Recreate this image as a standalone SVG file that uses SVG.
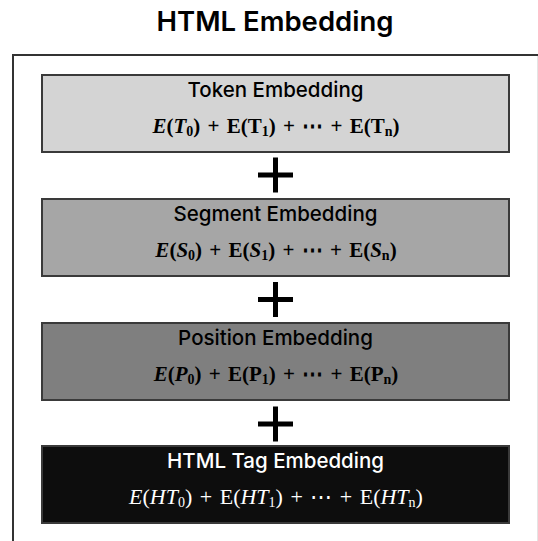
<svg xmlns="http://www.w3.org/2000/svg" width="538" height="541" viewBox="0 0 538 541">
<style>
.box{stroke:#3a3a3a;stroke-width:2}
.lbl{font-family:Inter,"Noto Sans",sans-serif;font-weight:500;font-size:20.5px;text-anchor:middle}
.f{font-family:"Liberation Serif","DejaVu Serif",serif;font-weight:bold;font-size:21px;text-anchor:middle;word-spacing:2px}
.i{font-style:italic}
.s{font-size:14px}
.plus{stroke:#000;stroke-width:5;fill:none}
</style>
<rect width="538" height="541" fill="#fff"/>
<text x="275" y="31" font-family="Inter,'Noto Sans',sans-serif" font-weight="600" font-size="27.5" text-anchor="middle" fill="#000">HTML Embedding</text>
<g id="frame">
<path d="M13,541 V55 H538" fill="none" stroke="#333" stroke-width="2"/>
<line x1="537.5" y1="56" x2="537.5" y2="541" stroke="#e4e4e4" stroke-width="1"/>
</g>
<g id="token">
<rect class="box" x="42" y="75" width="467" height="77" fill="#d4d4d4"/>
<text class="lbl" x="275.5" y="97" fill="#000">Token Embedding</text>
<text class="f" x="276" y="133" fill="#000"><tspan class="i">E</tspan>(<tspan class="i">T</tspan><tspan class="s" dy="3">0</tspan><tspan dy="-3">) + E(T</tspan><tspan class="s" dy="3">1</tspan><tspan dy="-3">) + ⋯ + E(T</tspan><tspan class="s" dy="3">n</tspan><tspan dy="-3">)</tspan></text>
</g>
<g id="segment">
<rect class="box" x="42" y="199" width="467" height="77" fill="#a6a6a6"/>
<text class="lbl" x="275.5" y="221" fill="#000">Segment Embedding</text>
<text class="f" x="276" y="257" fill="#000"><tspan class="i">E</tspan>(<tspan class="i">S</tspan><tspan class="s" dy="3">0</tspan><tspan dy="-3">) + E(</tspan><tspan class="i">S</tspan><tspan class="s" dy="3">1</tspan><tspan dy="-3">) + ⋯ + E(</tspan><tspan class="i">S</tspan><tspan class="s" dy="3">n</tspan><tspan dy="-3">)</tspan></text>
</g>
<g id="position">
<rect class="box" x="42" y="323" width="467" height="77" fill="#7f7f7f"/>
<text class="lbl" x="275.5" y="345" fill="#000">Position Embedding</text>
<text class="f" x="276" y="381" fill="#000"><tspan class="i">E</tspan>(<tspan class="i">P</tspan><tspan class="s" dy="3">0</tspan><tspan dy="-3">) + E(P</tspan><tspan class="s" dy="3">1</tspan><tspan dy="-3">) + ⋯ + E(P</tspan><tspan class="s" dy="3">n</tspan><tspan dy="-3">)</tspan></text>
</g>
<g id="htmltag">
<rect class="box" x="42" y="446" width="467" height="77" fill="#0d0d0d"/>
<text class="lbl" x="275.5" y="468" fill="#fff">HTML Tag Embedding</text>
<text class="f" x="276" y="504" fill="#fff" style="font-weight:normal;font-size:22px"><tspan class="i">E</tspan>(<tspan class="i">HT</tspan><tspan class="s" dy="3">0</tspan><tspan dy="-3">) + E(</tspan><tspan class="i">HT</tspan><tspan class="s" dy="3">1</tspan><tspan dy="-3">) + ⋯ + E(</tspan><tspan class="i">HT</tspan><tspan class="s" dy="3">n</tspan><tspan dy="-3">)</tspan></text>
</g>
<g id="connectors">
<path class="plus" d="M258,175 H293 M275.5,157.5 V192.5"/>
<path class="plus" d="M258,299.5 H293 M275.5,282 V317"/>
<path class="plus" d="M258,424 H293 M275.5,406.5 V441.5"/>
</g>
</svg>
